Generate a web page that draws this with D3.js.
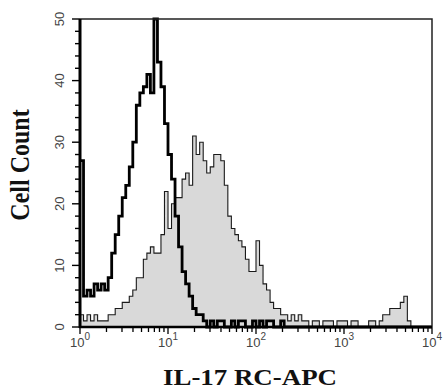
<!DOCTYPE html>
<html>
<head>
<meta charset="utf-8">
<script src="https://cdn.jsdelivr.net/npm/d3@7"></script>
<style>
  body { margin: 0; background: #fff; }
  svg { display: block; }
</style>
</head>
<body>
<div class="chart-container"></div>
<script>
// histogram data: one count per bin, bins are 0.04 decades wide starting at 10^0
const binWidth = 0.04;

// thick black outline (control)
const controlCounts = [
  27, 5, 6, 5, 7, 6, 7, 6, 8, 12,
  15, 18, 21, 23, 26, 30, 36, 38, 39, 41,
  38, 50, 43, 39, 33, 28, 24, 18, 13, 9,
  7, 5, 3, 2, 2, 1, 0, 1, 0, 1,
  1, 0, 0, 1, 0, 1, 1, 0, 0, 1,
  0, 1, 0, 1, 1, 0, 0, 1, 0, 0,
  0, 0, 0, 0, 0, 0, 0, 0, 0, 0,
  0, 0, 0, 0, 0, 0, 0, 0, 0, 0,
  0, 0, 0, 0, 0, 0, 0, 0, 0, 0,
  0, 0, 0, 0, 0, 0, 0, 0, 0, 0
];

// grey filled histogram (stained)
const stainedCounts = [
  2, 1, 2, 1, 2, 1, 1, 1, 2, 2,
  3, 3, 4, 4, 5, 6, 8, 8, 11, 12,
  13, 12, 12, 15, 22, 16, 20, 21, 21, 24,
  25, 23, 31, 28, 30, 27, 25, 26, 28, 28,
  27, 23, 18, 16, 15, 14, 13, 11, 9, 9,
  14, 10, 7, 6, 4, 3, 3, 2, 2, 1,
  2, 1, 2, 1, 1, 0, 1, 1, 0, 1,
  1, 1, 0, 1, 1, 1, 0, 1, 1, 0,
  0, 0, 1, 1, 0, 1, 2, 2, 3, 3,
  3, 4, 5, 1, 0, 0, 0, 0, 0, 0
];

const xDecades = [0, 1, 2, 3, 4];
const yTicks = [0, 10, 20, 30, 40, 50];

const width = 443;
const height = 392;
const margin = { top: 19, right: 11, bottom: 65, left: 80 };

const svg = d3.select('.chart-container')
  .append('svg')
  .attr('width', width)
  .attr('height', height);

// scales
const xScale = d3.scaleLog()
  .domain([1, 1e4])
  .range([margin.left, width - margin.right]);

const yScale = d3.scaleLinear()
  .domain([0, 50])
  .range([height - margin.bottom, margin.top]);

// turn counts into step points (left edge of each bin, plus closing edge)
function toSteps(counts) {
  const pts = counts.map((c, i) => ({ x: Math.pow(10, i * binWidth), y: c }));
  pts.push({ x: Math.pow(10, counts.length * binWidth), y: counts[counts.length - 1] });
  return pts;
}

const area = d3.area()
  .curve(d3.curveStepAfter)
  .x(d => xScale(Math.min(d.x, 1e4)))
  .y0(yScale(0))
  .y1(d => yScale(d.y));

const line = d3.line()
  .curve(d3.curveStepAfter)
  .x(d => xScale(Math.min(d.x, 1e4)))
  .y(d => yScale(d.y));

// stained histogram
svg.append('path')
  .datum(toSteps(stainedCounts))
  .attr('d', area)
  .attr('fill', '#d9d9d9');

svg.append('path')
  .datum(toSteps(stainedCounts))
  .attr('d', line)
  .attr('fill', 'none')
  .attr('stroke', '#1a1a1a')
  .attr('stroke-width', 1.1);

// control histogram
svg.append('path')
  .datum(toSteps(controlCounts))
  .attr('d', line)
  .attr('fill', 'none')
  .attr('stroke', '#000')
  .attr('stroke-width', 2.8);

// frame (thin top and right)
svg.append('path')
  .attr('d', `M${xScale(1)},${yScale(50)}H${xScale(1e4)}V${yScale(0)}`)
  .attr('fill', 'none')
  .attr('stroke', '#222')
  .attr('stroke-width', 1.5);

// y axis ticks, every 2, longer at multiples of 10
svg.append('g')
  .selectAll('line')
  .data(d3.range(0, 51, 2))
  .enter()
  .append('line')
  .attr('x1', margin.left)
  .attr('x2', d => margin.left - (d % 10 === 0 ? 8 : 5))
  .attr('y1', d => yScale(d))
  .attr('y2', d => yScale(d))
  .attr('stroke', '#000')
  .attr('stroke-width', 1.4);

svg.append('line')
  .attr('x1', margin.left).attr('x2', margin.left)
  .attr('y1', yScale(50)).attr('y2', yScale(0) + 1)
  .attr('stroke', '#000')
  .attr('stroke-width', 3);

svg.append('g')
  .selectAll('text')
  .data(yTicks)
  .enter()
  .append('text')
  .attr('transform', d => `translate(${margin.left - 16}, ${yScale(d)}) rotate(-90)`)
  .attr('text-anchor', 'middle')
  .attr('font-family', 'Liberation Sans, Arial, sans-serif')
  .attr('font-size', 13)
  .attr('fill', '#444')
  .text(d => d);

// x axis ticks: majors at decades, minors 2..9
const minorTicks = [];
xDecades.slice(0, -1).forEach(e => {
  [2, 3, 4, 5, 6, 7, 8, 9].forEach(m => minorTicks.push(m * Math.pow(10, e)));
});
const majorTicks = xDecades.map(e => Math.pow(10, e));

svg.append('g')
  .selectAll('line')
  .data(majorTicks.concat(minorTicks))
  .enter()
  .append('line')
  .attr('x1', d => xScale(d))
  .attr('x2', d => xScale(d))
  .attr('y1', yScale(0))
  .attr('y2', d => yScale(0) + (majorTicks.includes(d) ? 7 : 5))
  .attr('stroke', '#000')
  .attr('stroke-width', 1.3);

svg.append('line')
  .attr('x1', margin.left - 1).attr('x2', xScale(1e4))
  .attr('y1', yScale(0)).attr('y2', yScale(0))
  .attr('stroke', '#000')
  .attr('stroke-width', 2.4);

const xLabels = svg.append('g')
  .selectAll('text')
  .data(xDecades)
  .enter()
  .append('text')
  .attr('x', d => xScale(Math.pow(10, d)))
  .attr('y', 347)
  .attr('text-anchor', 'middle')
  .attr('font-family', 'Liberation Sans, Arial, sans-serif')
  .attr('font-size', 13)
  .attr('fill', '#444');

xLabels.append('tspan').text('10');
xLabels.append('tspan')
  .attr('dy', -7)
  .attr('font-size', 10)
  .text(d => d);

// axis titles
svg.append('text')
  .attr('transform', `translate(29, 165) scale(1.15, 1) rotate(-90)`)
  .attr('text-anchor', 'middle')
  .attr('font-family', 'Liberation Serif, Times New Roman, serif')
  .attr('font-weight', 'bold')
  .attr('font-size', 24)
  .attr('fill', '#111')
  .text('Cell Count');

svg.append('text')
  .attr('x', 250)
  .attr('y', 385)
  .attr('text-anchor', 'middle')
  .attr('font-family', 'Liberation Serif, Times New Roman, serif')
  .attr('font-weight', 'bold')
  .attr('font-size', 23)
  .attr('textLength', 174)
  .attr('lengthAdjust', 'spacingAndGlyphs')
  .attr('fill', '#111')
  .text('IL-17 RC-APC');
</script>
</body>
</html>
